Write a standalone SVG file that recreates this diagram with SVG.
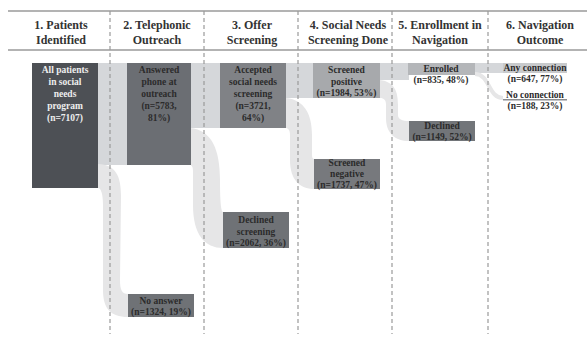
<svg xmlns="http://www.w3.org/2000/svg" width="587" height="339" viewBox="0 0 587 339">
  <style>
    .hdr { font-family: "Liberation Serif", "Times New Roman", serif; font-size: 12px; font-weight: bold; fill: #333; text-anchor: middle; }
    .lbl { font-family: "Liberation Serif", "Times New Roman", serif; font-size: 9.5px; font-weight: bold; fill: #2b2b2b; text-anchor: middle; }
    .lbl-light { fill: #eeeeee; }
    .rule { stroke: #9a9a9a; stroke-width: 1.5; fill: none; }
    .divider { stroke: #9a9a9a; stroke-width: 1.2; stroke-dasharray: 4 3; fill: none; }
    .band { fill: #d5d7da; }
    .branch { fill: #e6e6e7; }
  </style>

  <rect width="587" height="339" fill="#ffffff"/>

  <!-- header rows -->
  <g id="header">
    <line class="rule" x1="8" y1="11" x2="587" y2="11"/>
    <line class="rule" x1="8" y1="50" x2="587" y2="50"/>
    <text class="hdr" x="61" y="29">1. Patients</text>
    <text class="hdr" x="61" y="43.5">Identified</text>
    <text class="hdr" x="157" y="29">2. Telephonic</text>
    <text class="hdr" x="157" y="43.5">Outreach</text>
    <text class="hdr" x="252" y="29">3. Offer</text>
    <text class="hdr" x="252" y="43.5">Screening</text>
    <text class="hdr" x="348" y="29">4. Social Needs</text>
    <text class="hdr" x="348" y="43.5">Screening Done</text>
    <text class="hdr" x="440" y="29">5. Enrollment in</text>
    <text class="hdr" x="440" y="43.5">Navigation</text>
    <text class="hdr" x="540" y="29">6. Navigation</text>
    <text class="hdr" x="540" y="43.5">Outcome</text>
  </g>

  <!-- flows between stages -->
  <g id="connectors">
    <!-- continuing flow along the top -->
    <rect class="band" x="98" y="63" width="30" height="102"/>
    <rect class="band" x="190" y="63" width="31" height="65"/>
    <rect class="band" x="286" y="63" width="28" height="35"/>
    <rect class="band" x="380" y="63" width="29" height="17"/>
    <rect class="band" x="475" y="63" width="28" height="10"/>
    <!-- drop-off branches -->
    <path class="branch" d="M98,164 C116,165 121,176 121,196 L120,280 C120,290 122,294 128,294 L128,317 C110,317 103,308 103,290 L103,205 C103,194 101,188 98,188 Z"/>
    <path class="branch" d="M190,128 C212,130 220,150 220,180 C220,200 221,212 223,212 L223,248 C205,248 193,235 193,205 L193,172 C193,167 192,165 190,165 Z"/>
    <path class="branch" d="M286,98 C305,100 312,115 312,135 L312,155 C312,158 313,159 314,159 L314,189 C300,189 290,180 290,160 L290,135 C290,130 288,128 286,128 Z"/>
    <path class="branch" d="M380,80 C395,82 398,92 398,105 L398,115 C398,119 402,121 409,121 L409,141 C395,141 386,133 386,118 L386,105 C386,100 384,98 380,98 Z"/>
    <path d="M475,74 C490,74 488,98 503,98" fill="none" stroke="#e6e6e7" stroke-width="4"/>
  </g>

  <!-- stage dividers -->
  <g id="dividers">
    <line class="divider" x1="110" y1="11" x2="110" y2="334"/>
    <line class="divider" x1="204" y1="11" x2="204" y2="334"/>
    <line class="divider" x1="298" y1="11" x2="298" y2="334"/>
    <line class="divider" x1="392" y1="11" x2="392" y2="334"/>
    <line class="divider" x1="488" y1="11" x2="488" y2="334"/>
  </g>

  <g id="all-patients">
    <rect x="32" y="63" width="66" height="125" fill="#4d5055"/>
    <text class="lbl lbl-light" x="65" y="73">All patients</text>
    <text class="lbl lbl-light" x="65" y="85">in social</text>
    <text class="lbl lbl-light" x="65" y="97">needs</text>
    <text class="lbl lbl-light" x="65" y="109">program</text>
    <text class="lbl lbl-light" x="65" y="121">(n=7107)</text>
  </g>

  <g id="answered">
    <rect x="127" y="63" width="64" height="102" fill="#6b6e73"/>
    <text class="lbl" x="159" y="73">Answered</text>
    <text class="lbl" x="159" y="85">phone at</text>
    <text class="lbl" x="159" y="97">outreach</text>
    <text class="lbl" x="159" y="109">(n=5783,</text>
    <text class="lbl" x="159" y="121">81%)</text>
  </g>

  <g id="no-answer">
    <rect x="128" y="294" width="66" height="23" fill="#6f7276"/>
    <text class="lbl" x="161" y="304">No answer</text>
    <text class="lbl" x="161" y="315">(n=1324, 19%)</text>
  </g>

  <g id="accepted">
    <rect x="220" y="63" width="66" height="65" fill="#808286"/>
    <text class="lbl" x="253" y="73">Accepted</text>
    <text class="lbl" x="253" y="85">social needs</text>
    <text class="lbl" x="253" y="97">screening</text>
    <text class="lbl" x="253" y="109">(n=3721,</text>
    <text class="lbl" x="253" y="121">64%)</text>
  </g>

  <g id="declined-screening">
    <rect x="223" y="212" width="66" height="36" fill="#6f7276"/>
    <text class="lbl" x="256" y="223">Declined</text>
    <text class="lbl" x="256" y="235">screening</text>
    <text class="lbl" x="256" y="246">(n=2062, 36%)</text>
  </g>

  <g id="screened-positive">
    <rect x="313" y="63" width="67" height="35" fill="#a7a9ac"/>
    <text class="lbl" x="346.5" y="73">Screened</text>
    <text class="lbl" x="346.5" y="85">positive</text>
    <text class="lbl" x="346.5" y="96">(n=1984, 53%)</text>
  </g>

  <g id="screened-negative">
    <rect x="314" y="159" width="66" height="30" fill="#77797d"/>
    <text class="lbl" x="347" y="166">Screened</text>
    <text class="lbl" x="347" y="177">negative</text>
    <text class="lbl" x="347" y="188">(n=1737, 47%)</text>
  </g>

  <g id="enrolled">
    <rect x="408" y="63" width="67" height="12" fill="#b4b6b9"/>
    <text class="lbl" x="441" y="72">Enrolled</text>
    <text class="lbl" x="441" y="83">(n=835, 48%)</text>
  </g>

  <g id="declined-enrollment">
    <rect x="409" y="121" width="66" height="20" fill="#727579"/>
    <text class="lbl" x="442" y="129">Declined</text>
    <text class="lbl" x="442" y="139.5">(n=1149, 52%)</text>
  </g>

  <g id="any-connection">
    <rect x="503" y="63" width="64" height="10" fill="#c8cacc"/>
    <text class="lbl" x="535" y="71">Any connection</text>
    <text class="lbl" x="535" y="82">(n=647, 77%)</text>
  </g>

  <g id="no-connection">
    <rect x="503" y="99" width="64" height="1.5" fill="#8a8c8f"/>
    <text class="lbl" x="535" y="98">No connection</text>
    <text class="lbl" x="535" y="109">(n=188, 23%)</text>
  </g>
</svg>
